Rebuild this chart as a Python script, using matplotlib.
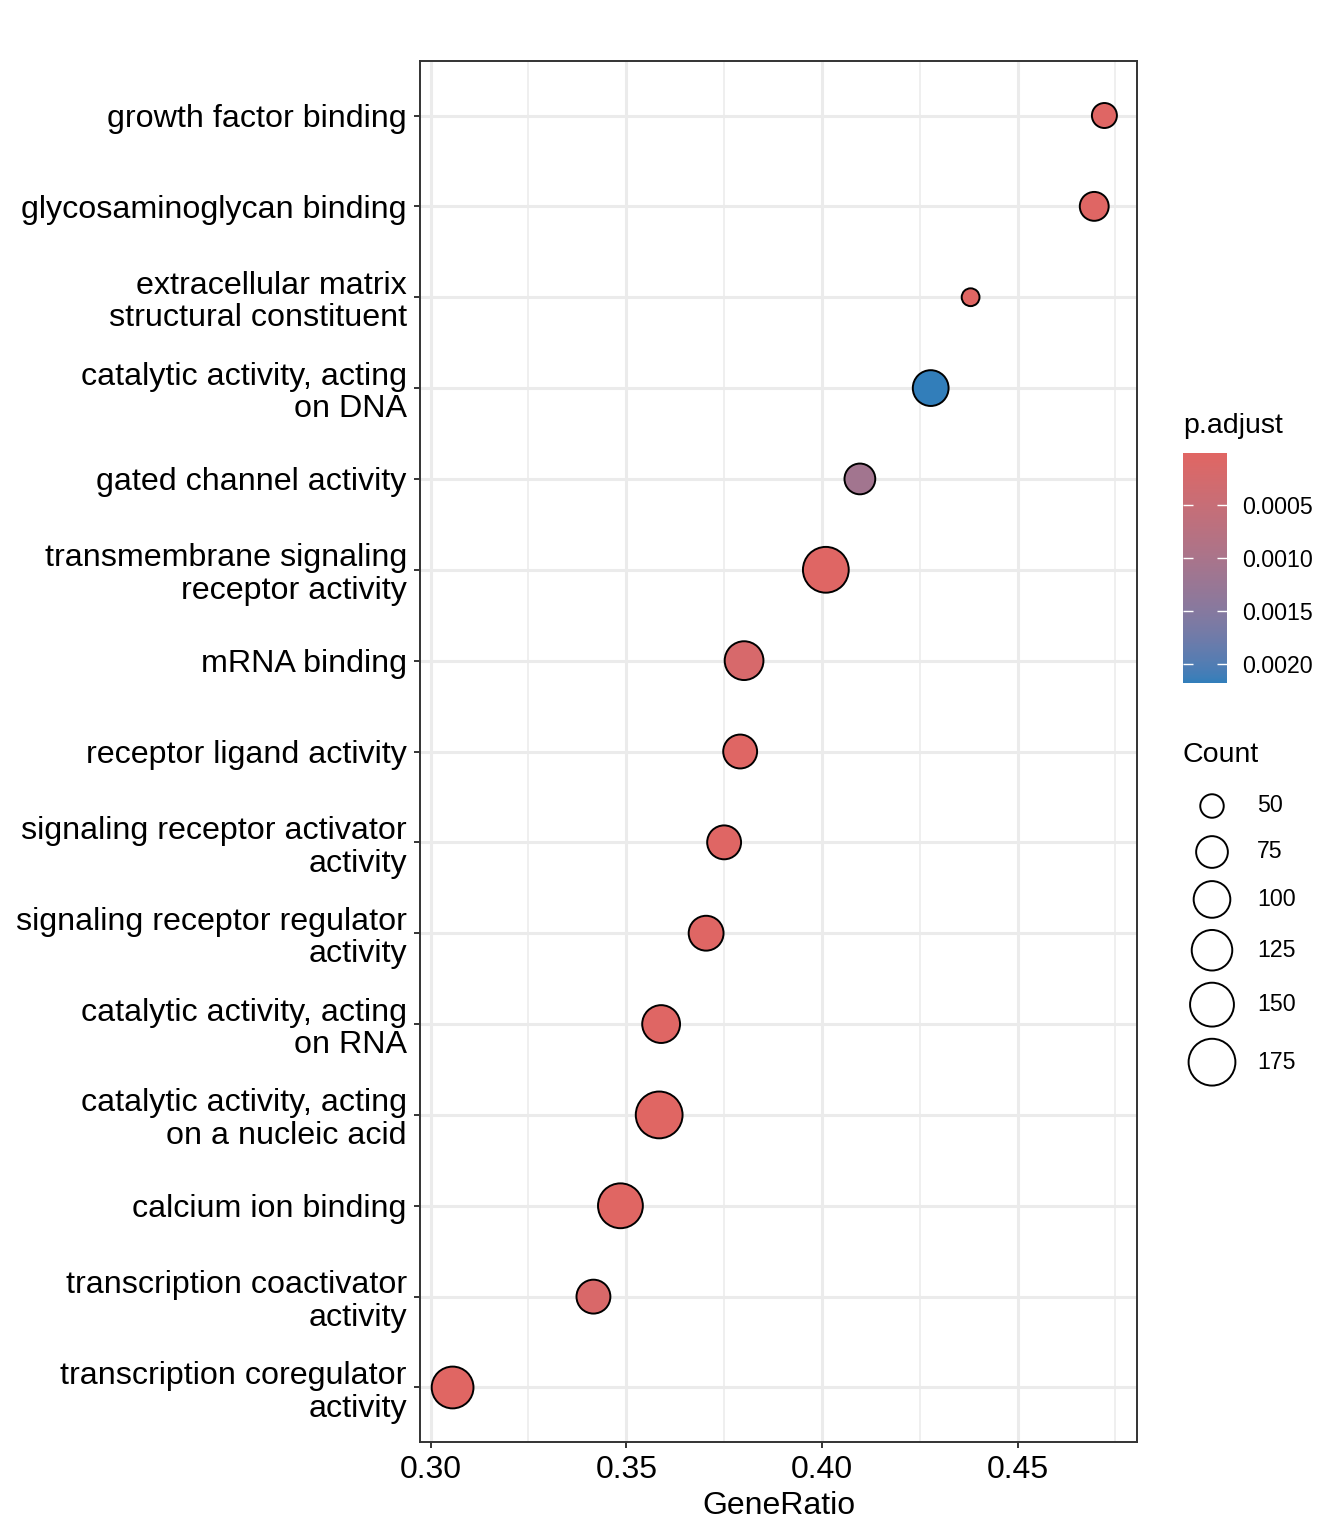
import numpy as np
import matplotlib
matplotlib.use("Agg")
import matplotlib.pyplot as plt
from matplotlib.colors import ListedColormap, Normalize
from matplotlib.cm import ScalarMappable

plt.rcParams["font.family"] = ["Liberation Sans", "DejaVu Sans"]

# top to bottom, as in the chart
terms = [
    "growth factor binding",
    "glycosaminoglycan binding",
    "extracellular matrix\nstructural constituent",
    "catalytic activity, acting\non DNA",
    "gated channel activity",
    "transmembrane signaling\nreceptor activity",
    "mRNA binding",
    "receptor ligand activity",
    "signaling receptor activator\nactivity",
    "signaling receptor regulator\nactivity",
    "catalytic activity, acting\non RNA",
    "catalytic activity, acting\non a nucleic acid",
    "calcium ion binding",
    "transcription coactivator\nactivity",
    "transcription coregulator\nactivity",
]
gene_ratio = [0.4722, 0.4696, 0.4380, 0.4278, 0.4097, 0.4010, 0.3801, 0.3791,
              0.3750, 0.3704, 0.3589, 0.3584, 0.3485, 0.3416, 0.3056]
counts = [53, 64, 45, 95, 71, 166, 113, 85, 85, 90, 107, 175, 158, 85, 134]
p_adjust = [0.00003, 0.00004, 0.00002, 0.00218, 0.00112, 0.00003, 0.00020, 0.00004,
            0.00003, 0.00003, 0.00004, 0.00002, 0.00002, 0.00015, 0.00001]

count_breaks = [50, 75, 100, 125, 150, 175]
padj_breaks = [0.0005, 0.0010, 0.0015, 0.0020]
x_ticks = [0.30, 0.35, 0.40, 0.45]
x_minor = [0.325, 0.375, 0.425, 0.475]

LOW, HIGH = "#e06663", "#327eba"
W, H, DPI = 1344, 1536, 100


def _hex_rgb(h):
    h = h.lstrip("#")
    return np.array([int(h[i:i + 2], 16) / 255 for i in (0, 2, 4)])


M = np.array([[0.4124, 0.3576, 0.1805], [0.2126, 0.7152, 0.0722], [0.0193, 0.1192, 0.9505]])
WHITE = np.array([0.95047, 1.0, 1.08883])


def _to_lab(rgb):
    lin = np.where(rgb <= 0.04045, rgb / 12.92, ((rgb + 0.055) / 1.055) ** 2.4)
    xyz = M @ lin / WHITE
    f = np.where(xyz > 0.008856, np.cbrt(xyz), 7.787 * xyz + 16 / 116)
    return np.array([116 * f[1] - 16, 500 * (f[0] - f[1]), 200 * (f[1] - f[2])])


def _from_lab(lab):
    fy = (lab[0] + 16) / 116
    f = np.array([fy + lab[1] / 500, fy, fy - lab[2] / 200])
    xyz = np.where(f ** 3 > 0.008856, f ** 3, (f - 16 / 116) / 7.787) * WHITE
    lin = np.linalg.solve(M, xyz)
    rgb = np.where(lin <= 0.0031308, 12.92 * lin, 1.055 * np.clip(lin, 0, None) ** (1 / 2.4) - 0.055)
    return np.clip(rgb, 0, 1)


# ggplot-style gradient, interpolated in Lab space
lab_lo, lab_hi = _to_lab(_hex_rgb(LOW)), _to_lab(_hex_rgb(HIGH))
cmap = ListedColormap([_from_lab(lab_lo + t * (lab_hi - lab_lo)) for t in np.linspace(0, 1, 256)])
norm = Normalize(vmin=min(p_adjust), vmax=max(p_adjust))

cmin, cmax = min(counts), max(counts)


def diameter_px(c):
    return 19 + 29 * np.sqrt((np.asarray(c, float) - cmin) / (cmax - cmin))


def marker_area(c):
    return ((diameter_px(c) - 1.2) * 72 / DPI) ** 2


fig = plt.figure(figsize=(W / DPI, H / DPI), dpi=DPI)
ax = fig.add_axes([420 / W, 1 - 1442 / H, 717 / W, 1381 / H])

n = len(terms)
ypos = np.arange(n)[::-1]
ax.scatter(gene_ratio, ypos, s=marker_area(counts), c=p_adjust, cmap=cmap, norm=norm,
           edgecolors="black", linewidths=1.4, zorder=3)

ax.set_ylim(-0.6, n - 1 + 0.6)
xr = max(gene_ratio) - min(gene_ratio)
ax.set_xlim(min(gene_ratio) - 0.05 * xr, max(gene_ratio) + 0.05 * xr)
ax.set_yticks(ypos)
ax.set_yticklabels(terms, fontsize=23.2, linespacing=1.12)
ax.set_xticks(x_ticks)
ax.set_xticklabels([f"{v:.2f}" for v in x_ticks], fontsize=23)
ax.set_xticks(x_minor, minor=True)
ax.set_xlabel("GeneRatio", fontsize=23, labelpad=4)

ax.grid(which="major", color="#ebebeb", linewidth=2.2, zorder=0)
ax.grid(which="minor", axis="x", color="#ebebeb", linewidth=1.1, zorder=0)
ax.set_axisbelow(True)
ax.tick_params(which="major", length=4.5, width=1.4, color="#333333", pad=5, labelcolor="black")
ax.tick_params(which="minor", length=0)
for sp in ax.spines.values():
    sp.set_color("#333333")
    sp.set_linewidth(1.4)

# colour bar
cax = fig.add_axes([1183 / W, 1 - 683 / H, 44 / W, 230 / H])
cb = fig.colorbar(ScalarMappable(norm=norm, cmap=cmap), cax=cax)
cb.outline.set_visible(False)
cax.invert_yaxis()
cb.set_ticks(padj_breaks)
cb.set_ticklabels([f"{v:.4f}" for v in padj_breaks])
cax.yaxis.set_ticks_position("both")
cax.tick_params(direction="in", length=7, width=1, color="white", labelsize=16.7, pad=11,
                labelleft=False, labelright=True)

# overlay for legend titles and size legend
lax = fig.add_axes([0, 0, 1, 1])
lax.set_xlim(0, W)
lax.set_ylim(H, 0)
lax.axis("off")
lax.text(1183, 426, "p.adjust", fontsize=20.5, va="center", ha="left")
lax.text(1183, 755, "Count", fontsize=20.5, va="center", ha="left")

key_h = np.maximum(diameter_px(count_breaks) + 11, 46)
centers = 806 + np.concatenate([[0], np.cumsum((key_h[:-1] + key_h[1:]) / 2)])
lax.scatter(np.full(len(count_breaks), 1212), centers, s=marker_area(count_breaks),
            facecolors="white", edgecolors="black", linewidths=1.4)
for yc, lab in zip(centers, count_breaks):
    lax.text(1257, yc, str(lab), fontsize=16.7, va="center", ha="left")

fig.savefig("out.png", dpi=DPI)
